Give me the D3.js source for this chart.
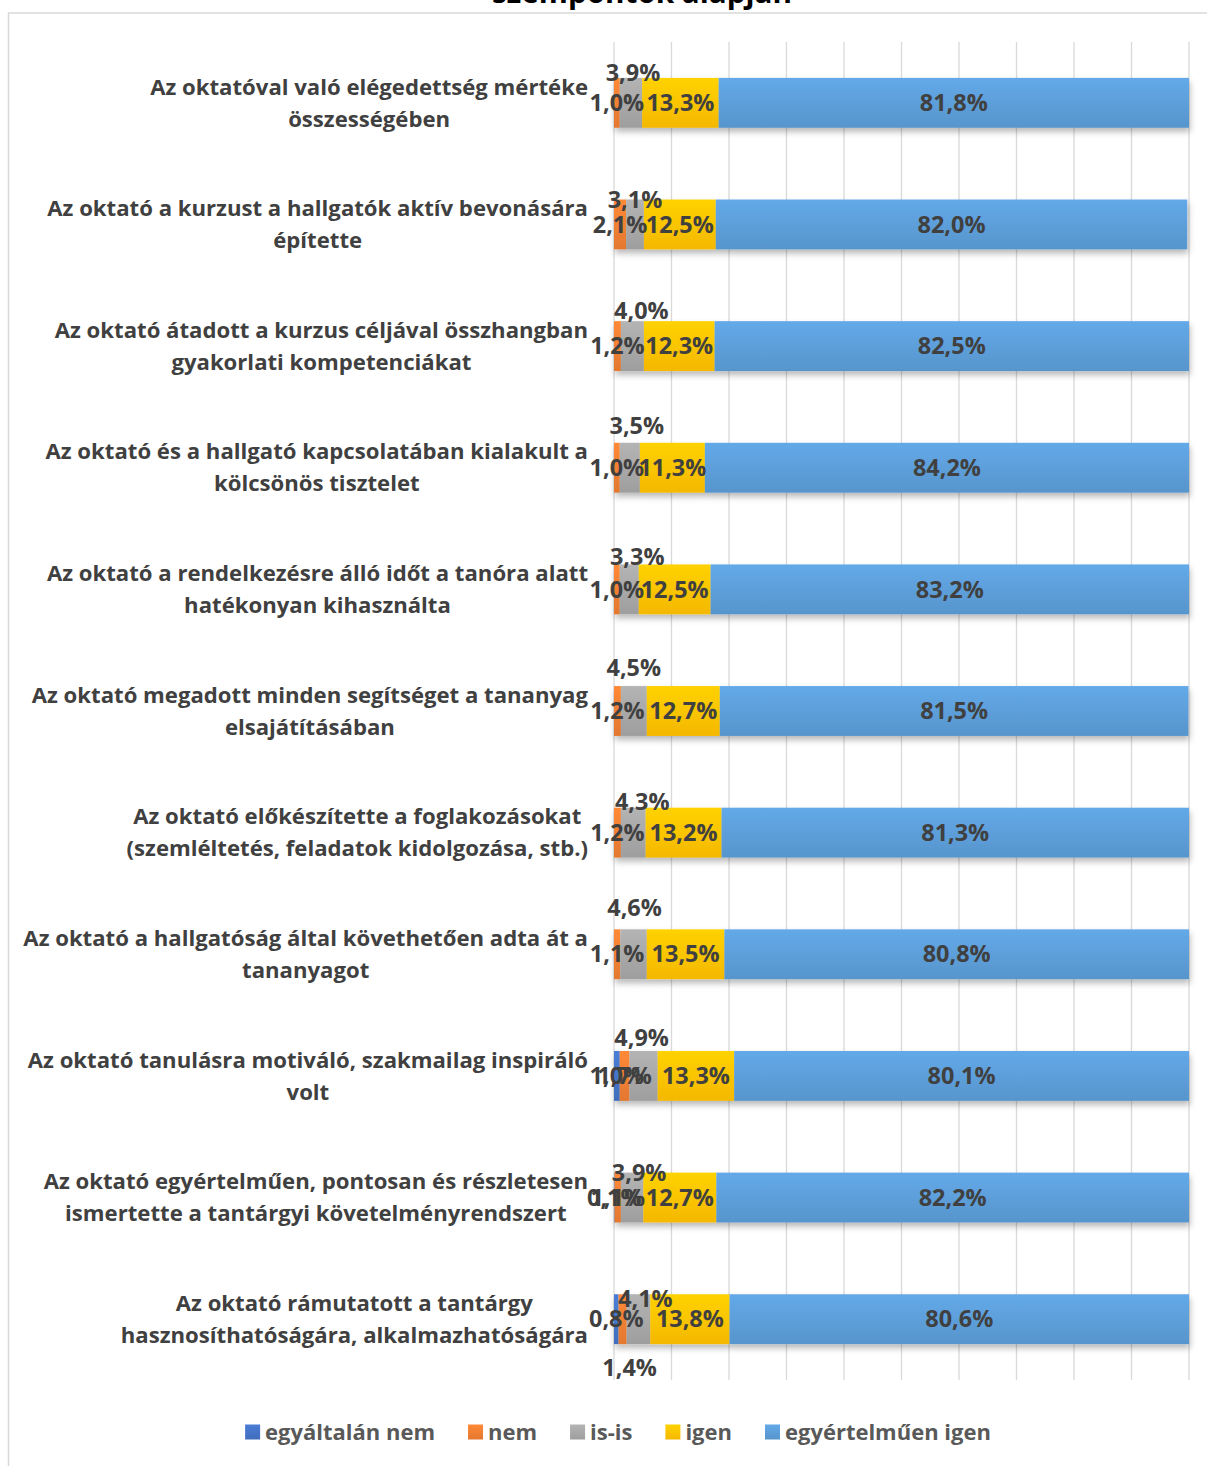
<!DOCTYPE html>
<html>
<head>
<meta charset="utf-8">
<script src="https://cdn.jsdelivr.net/npm/d3@7"></script>
<style>
  html, body { margin: 0; padding: 0; background: #fff; }
  svg { display: block; }
  text { font-family: "Open Sans", Lato, sans-serif; font-weight: 700; }
</style>
</head>
<body>
<div id="chart"></div>
<script>
// Category labels, already wrapped into lines
const categories = [
  ["Az oktatóval való elégedettség mértéke", "összességében"],
  ["Az oktató a kurzust a hallgatók aktív bevonására", "építette"],
  ["Az oktató átadott a kurzus céljával összhangban", "gyakorlati kompetenciákat"],
  ["Az oktató és a hallgató kapcsolatában kialakult a", "kölcsönös tisztelet"],
  ["Az oktató a rendelkezésre álló időt a tanóra alatt", "hatékonyan kihasználta"],
  ["Az oktató megadott minden segítséget a tananyag", "elsajátításában"],
  ["Az oktató előkészítette a foglakozásokat", "(szemléltetés, feladatok kidolgozása, stb.)"],
  ["Az oktató a hallgatóság által követhetően adta át a", "tananyagot"],
  ["Az oktató tanulásra motiváló, szakmailag inspiráló", "volt"],
  ["Az oktató egyértelműen, pontosan és részletesen", "ismertette a tantárgyi követelményrendszert"],
  ["Az oktató rámutatott a tantárgy", "hasznosíthatóságára, alkalmazhatóságára"]
];

const seriesNames = ["egyáltalán nem", "nem", "is-is", "igen", "egyértelműen igen"];

// Percentages per answer option
const egyaltalanNem    = [0, 0, 0, 0, 0, 0, 0, 0, 1.0, 0.1, 0.8];
const nem              = [1.0, 2.1, 1.2, 1.0, 1.0, 1.2, 1.2, 1.1, 1.7, 1.1, 1.4];
const isIs             = [3.9, 3.1, 4.0, 3.5, 3.3, 4.5, 4.3, 4.6, 4.9, 3.9, 4.1];
const igen             = [13.3, 12.5, 12.3, 11.3, 12.5, 12.7, 13.2, 13.5, 13.3, 12.7, 13.8];
const egyertelmuenIgen = [81.8, 82.0, 82.5, 84.2, 83.2, 81.5, 81.3, 80.8, 80.1, 82.2, 80.6];

const gridTicks = [0, 10, 20, 30, 40, 50, 60, 70, 80, 90, 100];

const titleLine = "szempontok alapján";

// Styling
const colors = ["#4472C4", "#ED7D31", "#A5A5A5", "#FFC000", "#5B9BD5"];

// Hand-placed value labels (pixel nudges from the segment centre)
const labelNudges = [
  { row: 0, s: 2, dx: 2, dy: -30 },
  { row: 1, s: 2, dx: 0, dy: -25 },
  { row: 2, s: 2, dx: 9, dy: -35 },
  { row: 3, s: 2, dx: 7, dy: -42 },
  { row: 4, s: 2, dx: 8, dy: -33 },
  { row: 5, s: 2, dx: 0, dy: -43 },
  { row: 6, s: 2, dx: 9, dy: -31 },
  { row: 7, s: 2, dx: 1, dy: -46 },
  { row: 8, s: 2, dx: -2, dy: -38 },
  { row: 9, s: 2, dx: 7, dy: -25 },
  { row: 10, s: 2, dx: 7, dy: -20 },
  { row: 10, s: 1, dx: 7, dy: 49 }
];

const W = 1207, H = 1466;
const margin = { left: 614, right: 18, top: 42, bottom: 86 };

const rows = categories.map((c, i) => ({
  i,
  v: [egyaltalanNem[i], nem[i], isIs[i], igen[i], egyertelmuenIgen[i]]
}));

const svg = d3.select("#chart").append("svg")
  .attr("width", W).attr("height", H);

// Font size that makes a sample string span a given width
function fitSize(sample, width) {
  const t = svg.append("text").attr("font-size", 20).text(sample);
  const w = t.node().getComputedTextLength();
  t.remove();
  return 20 * width / w;
}
const catSize = fitSize("Az oktatóval való elégedettség mértéke", 438);
const valSize = fitSize("13,3%", 68);
const legSize = fitSize("egyáltalán nem", 170);
const titleSize = fitSize(titleLine, 300);

const defs = svg.append("defs");
colors.forEach((c, k) => {
  const g = defs.append("linearGradient")
    .attr("id", "grad" + k).attr("x1", 0).attr("y1", 0).attr("x2", 0).attr("y2", 1);
  g.append("stop").attr("offset", "0%").attr("stop-color", d3.color(c).brighter(0.25));
  g.append("stop").attr("offset", "100%").attr("stop-color", d3.color(c).darker(0.12));
});
const shadow = defs.append("filter").attr("id", "shadow")
  .attr("x", "-5%").attr("y", "-30%").attr("width", "110%").attr("height", "170%");
shadow.append("feDropShadow")
  .attr("dx", 1).attr("dy", 4).attr("stdDeviation", 3)
  .attr("flood-color", "#000").attr("flood-opacity", 0.28);

// Chart frame
svg.append("rect")
  .attr("x", 8.5).attr("y", 13).attr("width", 1270).attr("height", 1470)
  .attr("fill", "none").attr("stroke", "#d9d9d9").attr("stroke-width", 1.5);

// Title (only the last line fits in view)
svg.append("text")
  .attr("x", 642).attr("y", 3)
  .attr("text-anchor", "middle")
  .attr("font-size", titleSize).attr("fill", "#000")
  .text(titleLine);

const x = d3.scaleLinear().domain([0, 100])
  .range([margin.left, W - margin.right]).clamp(true);

const y = d3.scaleBand()
  .domain(rows.map(r => r.i))
  .range([margin.top, H - margin.bottom])
  .paddingInner(0.59).paddingOuter(0.295);

// Vertical gridlines
svg.append("g").selectAll("line").data(gridTicks).join("line")
  .attr("x1", d => x(d)).attr("x2", d => x(d))
  .attr("y1", margin.top).attr("y2", H - margin.bottom)
  .attr("stroke", "#d9d9d9").attr("stroke-width", 1.3);

// Stacked bars
const stackInput = rows.map(r => {
  const o = { i: r.i };
  seriesNames.forEach((n, k) => o[n] = r.v[k]);
  return o;
});
const stacked = d3.stack().keys(seriesNames)(stackInput);

const barsG = svg.append("g");
rows.forEach(r => {
  const rg = barsG.append("g").attr("filter", "url(#shadow)");
  stacked.forEach((layer, k) => {
    const d = layer[r.i];
    if (d[1] - d[0] <= 0) return;
    rg.append("rect")
      .attr("x", x(d[0]))
      .attr("y", y(r.i))
      .attr("width", Math.max(0, x(d[1]) - x(d[0])))
      .attr("height", y.bandwidth())
      .attr("fill", `url(#grad${k})`);
  });
});

// Category labels: wrapped lines, centred within their block, right-aligned block
const labelRight = 588;
const lineH = 32;
const catG = svg.append("g");
rows.forEach(r => {
  const lines = categories[r.i];
  const cy = y(r.i) + y.bandwidth() / 2;
  const texts = lines.map((ln, j) => catG.append("text")
    .attr("y", cy + (j - (lines.length - 1) / 2) * lineH)
    .attr("dy", "0.35em")
    .attr("text-anchor", "middle")
    .attr("font-size", catSize).attr("fill", "#404040")
    .text(ln));
  const maxW = d3.max(texts, t => t.node().getComputedTextLength());
  texts.forEach(t => t.attr("x", labelRight - maxW / 2));
});

// Value labels
const fmt = v => v.toFixed(1).replace(".", ",") + "%";
const valG = svg.append("g");
stacked.forEach((layer, k) => {
  rows.forEach(r => {
    const d = layer[r.i];
    const val = r.v[k];
    if (val <= 0) return;
    const nudge = labelNudges.find(n => n.row === r.i && n.s === k) || { dx: 0, dy: 0 };
    valG.append("text")
      .attr("x", (x(d[0]) + x(d[0] + val)) / 2 + nudge.dx)
      .attr("y", y(r.i) + y.bandwidth() / 2 + nudge.dy)
      .attr("dy", "0.35em")
      .attr("text-anchor", "middle")
      .attr("font-size", valSize).attr("fill", "#404040")
      .text(fmt(val));
  });
});

// Legend
const legG = svg.append("g");
let lx = 0;
const legY = 1432;
seriesNames.forEach((n, k) => {
  legG.append("rect")
    .attr("x", lx).attr("y", legY - 7.5).attr("width", 15).attr("height", 15)
    .attr("fill", `url(#grad${k})`);
  const t = legG.append("text")
    .attr("x", lx + 20).attr("y", legY).attr("dy", "0.35em")
    .attr("font-size", legSize).attr("fill", "#595959")
    .text(n);
  lx += 20 + t.node().getComputedTextLength() + 33;
});
const legW = lx - 33;
legG.attr("transform", `translate(${618 - legW / 2},0)`);
</script>
</body>
</html>
